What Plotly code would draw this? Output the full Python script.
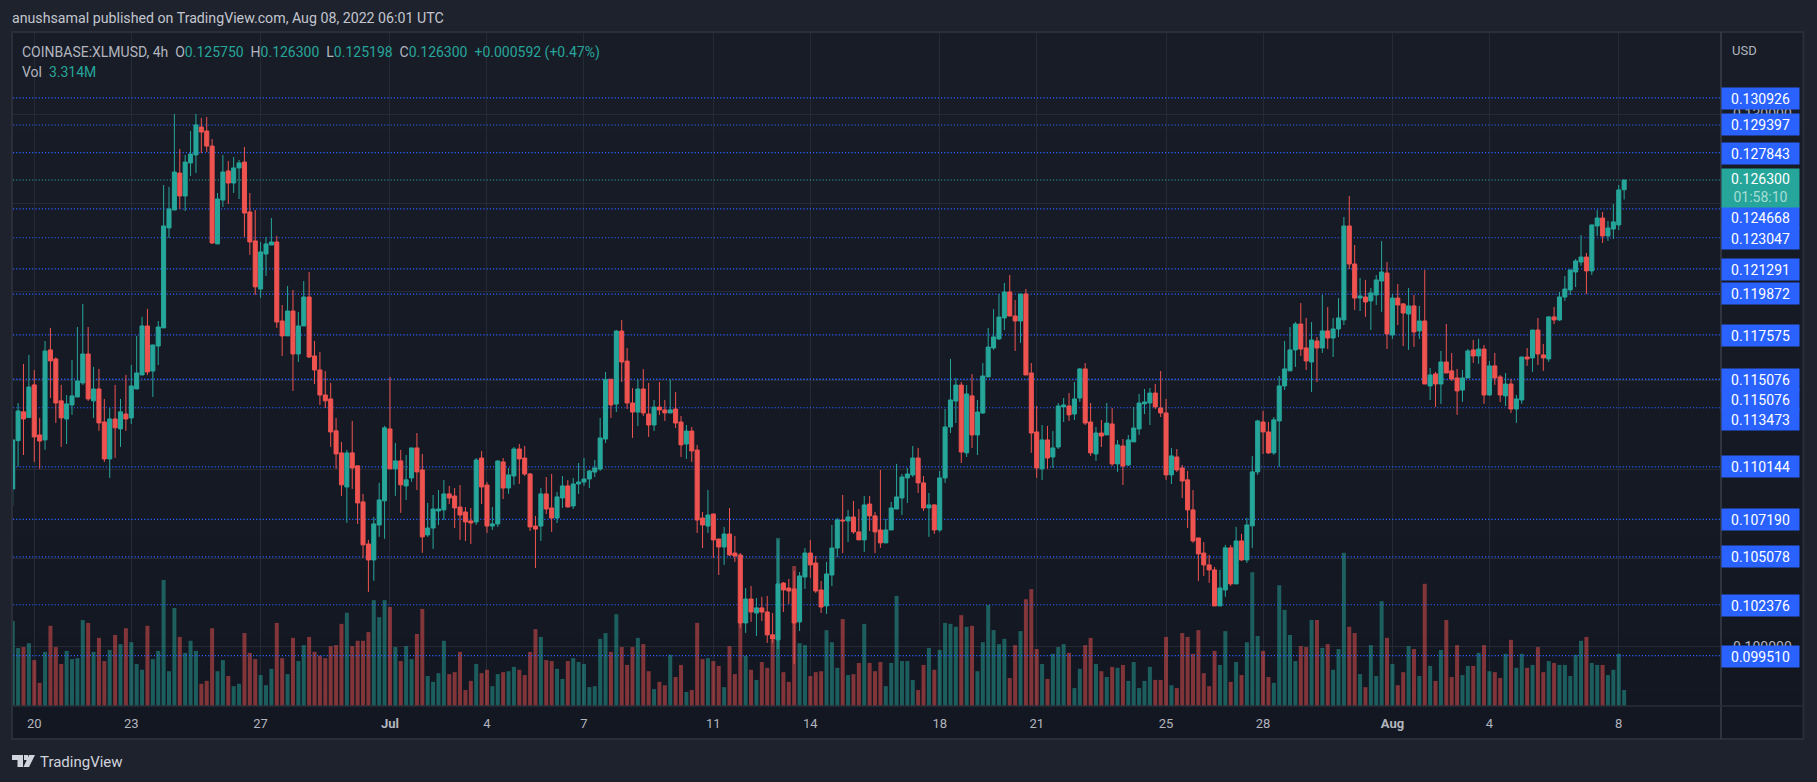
import pandas as pd
import plotly.graph_objects as go

# XLM/USD 4h candles, prices in 1e-5 USD
open_e5 = [
    10890,11162,11324,11292,11476,11194,11166,11673,11622,11386,
    11284,11363,11408,11487,11650,11386,11453,11267,11059,11284,
    11228,11312,11290,11453,11532,11808,11554,11695,11797,12360,
    12461,12669,12540,12726,12771,12928,12906,12821,12270,12517,
    12681,12613,12698,12731,12450,12287,12016,12213,12264,12281,
    11836,11752,11892,11650,11808,11971,11639,11560,11419,11397,
    11217,11093,10901,11093,11020,10817,10580,10490,10687,10823,
    11228,11003,11048,10907,10952,11121,10997,10631,10670,10766,
    10772,10862,10850,10788,10760,10710,10704,11064,10912,10681,
    10693,11042,10895,10963,11115,11064,10974,10681,10681,10862,
    10783,10726,10839,10907,10794,10918,10929,10946,10985,11002,
    11171,11507,11368,11779,11610,11374,11323,11453,11312,11250,
    11351,11335,11318,11340,11267,11143,11216,11109,10726,10681,
    10749,10608,10563,10636,10529,10518,10135,10270,10191,10220,
    10197,10068,10040,10360,10332,10327,10141,10394,10529,10473,
    10321,10231,10405,10557,10715,10710,10732,10648,10603,10805,
    10738,10659,10586,10659,10777,10839,10952,10969,11064,10924,
    10783,10800,10659,10952,11239,11385,11475,11093,11414,11194,
    11318,11521,11684,11735,11853,11999,11864,11836,11988,11543,
    11211,11003,11166,11070,11126,11352,11357,11312,11402,11566,
    11267,11087,11205,11194,11256,11031,11132,11025,11155,11228,
    11369,11374,11430,11346,11318,10969,11070,11008,10941,10772,
    10614,10529,10462,10434,10231,10321,10558,10355,10597,10490,
    10682,10986,11267,11211,11093,11273,11470,11555,11673,11819,
    11684,11605,11723,11684,11780,11740,11791,11842,12371,12157,
    11965,11971,11949,11982,12061,12106,11757,11965,11932,11875,
    11921,11780,11836,11470,11538,11481,11605,11555,11515,11447,
    11515,11673,11639,11678,11419,11583,11521,11414,11481,11340,
    11391,11633,11628,11785,11645,11622,11859,11842,11971,12011,
    12112,12168,12196,12118,12371,12416,12315,12354,12377,12575,
]
high_e5 = [
    11166,11374,11594,11645,11560,11290,11723,11797,11631,11476,
    11419,11616,11802,11932,11802,11577,11566,11397,11346,11476,
    11397,11532,11588,11752,11859,11904,11701,11836,12602,12591,
    13002,12805,12771,12906,13002,12979,12985,12861,12557,12771,
    12737,12760,12743,12816,12557,12461,12281,12309,12416,12315,
    11926,12033,12011,11887,12061,12112,11723,11661,11554,11487,
    11290,11155,11110,11273,11020,10862,10603,10732,10924,11245,
    11521,11149,11110,11081,11121,11205,11087,10811,10856,10884,
    10940,10907,10895,10912,10788,10783,11064,11104,10929,10788,
    11053,11064,11008,11126,11143,11132,10980,10738,10895,10957,
    10974,10873,10963,10940,10952,11036,11064,10997,11053,11290,
    11549,11511,11785,11841,11684,11458,11507,11565,11487,11391,
    11492,11391,11507,11436,11301,11250,11239,11138,10760,10884,
    10749,10608,10676,10783,10625,10529,10332,10343,10276,10282,
    10287,10191,10603,10366,10383,10428,10422,10557,10603,10512,
    10372,10479,10687,10726,10856,10772,10822,10777,10850,10850,
    10760,10997,10721,10817,11031,10974,11008,11132,11121,10963,
    10867,10805,10991,11340,11622,11515,11492,11475,11537,11391,
    11599,11796,11903,11988,12050,12095,11954,11988,12016,11599,
    11357,11250,11245,11216,11374,11402,11430,11492,11571,11599,
    11374,11239,11278,11374,11346,11166,11171,11194,11352,11425,
    11453,11459,11481,11554,11397,11121,11115,11025,10991,10884,
    10614,10591,10518,10451,10434,10575,10575,10676,10637,10727,
    11076,11279,11329,11267,11295,11526,11723,11802,11830,11937,
    11853,11830,11746,11982,11915,11853,11965,12422,12540,12264,
    12078,12067,12022,12095,12286,12168,11988,12044,11937,12022,
    11982,11921,12123,11571,11549,11667,11819,11656,11566,11560,
    11678,11729,11735,11701,11611,11656,11532,11543,11509,11419,
    11633,11684,11785,11853,11707,11864,11915,11999,12089,12123,
    12185,12320,12219,12377,12461,12450,12399,12495,12602,12630,
]
low_e5 = [
    10794,11016,11081,11292,11042,11003,11110,11402,11262,11127,
    11143,11307,11408,11476,11386,11290,11217,11042,10952,11065,
    11127,11217,11256,11453,11532,11532,11408,11588,11797,12303,
    12461,12467,12455,12653,12669,12782,12788,12270,12270,12478,
    12495,12557,12523,12309,12208,11983,11966,12090,12264,11797,
    11639,11752,11442,11605,11808,11628,11481,11363,11346,11127,
    11003,10851,10699,10890,10693,10501,10310,10372,10620,10609,
    11003,10851,10755,10828,10930,10884,10530,10620,10552,10687,
    10715,10805,10670,10603,10597,10580,10687,10805,10642,10659,
    10676,10833,10862,10912,10918,10963,10653,10445,10597,10749,
    10648,10698,10783,10788,10777,10862,10907,10895,10957,10991,
    11149,11290,11323,11492,11340,11177,11244,11301,11183,11216,
    11306,11273,11318,11233,11070,11059,11042,10642,10557,10642,
    10501,10405,10462,10512,10479,10107,10079,10141,10062,10146,
    10023,10023,9989,10197,10242,9904,10090,10327,10389,10304,
    10191,10186,10343,10507,10529,10591,10637,10603,10535,10653,
    10529,10558,10586,10659,10777,10743,10811,10957,10867,10766,
    10620,10637,10648,10924,11205,11261,11036,11070,11121,11081,
    11312,11521,11673,11729,11785,11864,11667,11712,11532,11093,
    10952,10941,11003,11008,11115,11267,11273,11278,11380,11250,
    11076,11048,11126,11194,11019,10986,10912,11019,11155,11194,
    11312,11250,11340,11295,10941,10918,10986,10839,10670,10586,
    10372,10400,10361,10231,10231,10282,10344,10355,10485,10473,
    10558,10969,11087,11087,11081,11014,11447,11555,11577,11639,
    11560,11436,11492,11656,11678,11633,11746,11813,12129,11898,
    11892,11859,11785,11926,11887,11678,11735,11813,11695,11673,
    11690,11735,11481,11391,11352,11369,11543,11498,11307,11380,
    11515,11600,11594,11369,11414,11476,11380,11357,11318,11262,
    11369,11583,11549,11588,11555,11605,11819,11836,11949,11982,
    12027,12146,11988,12095,12315,12275,12287,12298,12348,12520,
]
close_e5 = [
    11166,11329,11284,11464,11183,11160,11667,11611,11374,11290,
    11369,11414,11498,11650,11397,11453,11262,11059,11284,11234,
    11324,11284,11470,11543,11808,11549,11701,11802,12371,12467,
    12675,12540,12731,12776,12940,12900,12821,12275,12523,12675,
    12613,12698,12726,12444,12281,12028,12225,12270,12281,11830,
    11752,11892,11650,11808,11971,11633,11560,11419,11386,11211,
    11087,10913,11093,11008,10811,10575,10490,10693,10828,11234,
    11003,11048,10913,10941,11121,10986,10620,10670,10777,10777,
    10862,10839,10783,10743,10704,10698,11053,10901,10681,10693,
    11047,10895,10969,11115,11059,10974,10676,10664,10862,10777,
    10726,10845,10907,10788,10918,10929,10946,10991,11008,11177,
    11507,11363,11779,11605,11374,11323,11453,11318,11250,11351,
    11335,11318,11335,11261,11138,11216,11104,10715,10687,10743,
    10603,10563,10636,10518,10512,10135,10270,10197,10220,10197,
    10068,10045,10355,10321,10315,10135,10400,10529,10462,10315,
    10225,10411,10557,10715,10710,10732,10648,10603,10800,10738,
    10648,10586,10659,10783,10845,10957,10974,11064,10924,10783,
    10800,10659,10952,11239,11391,11475,11098,11425,11194,11323,
    11526,11689,11746,11858,11999,11864,11836,11988,11532,11205,
    11008,11166,11064,11121,11357,11363,11307,11397,11566,11261,
    11093,11205,11188,11261,11031,11138,11019,11166,11233,11374,
    11380,11430,11352,11318,10969,11076,10997,10935,10772,10597,
    10524,10462,10434,10231,10332,10558,10355,10597,10490,10687,
    10986,11273,11211,11093,11279,11470,11566,11673,11819,11678,
    11611,11729,11684,11780,11740,11791,11853,12371,12157,11965,
    11977,11943,11994,12067,12112,11763,11965,11926,11881,11921,
    11774,11836,11481,11532,11481,11605,11543,11509,11442,11515,
    11667,11639,11678,11419,11583,11515,11419,11481,11340,11397,
    11633,11622,11785,11650,11628,11859,11842,11971,12016,12123,
    12174,12196,12118,12377,12416,12315,12360,12394,12574,12630,
]
# volume in millions
volume_m = [
    17.6,12.0,12.2,13.0,9.5,4.8,11.2,16.6,12.2,8.7,
    11.4,9.7,9.9,17.8,17.2,11.2,14.1,9.3,11.6,14.7,
    12.8,16.1,13.2,8.7,7.5,16.6,9.7,11.4,26.1,7.2,
    20.3,14.3,11.0,13.5,11.4,4.6,5.2,16.1,7.2,9.5,
    6.2,4.1,4.6,15.1,11.0,9.7,6.4,4.3,7.7,17.2,
    9.9,6.6,14.1,9.3,12.6,14.3,11.2,10.4,9.9,12.4,
    12.6,17.0,19.3,12.4,13.5,13.5,15.3,21.9,18.4,21.9,
    20.5,12.2,9.3,12.4,9.7,14.9,20.1,6.2,5.0,6.8,
    13.5,6.6,7.0,11.2,3.3,5.2,8.7,6.8,7.5,4.1,
    6.6,7.0,7.2,8.1,7.5,6.4,11.2,15.9,14.3,9.5,
    9.3,7.7,5.6,9.3,9.9,9.1,8.7,3.9,4.1,13.9,
    15.1,11.2,19.0,12.2,8.5,12.2,14.1,12.8,7.2,3.5,
    5.0,4.3,10.6,6.0,8.5,2.9,3.3,17.2,9.7,9.9,
    9.3,8.3,3.9,12.4,6.6,18.8,10.4,7.5,5.4,9.1,
    7.9,13.7,34.8,7.0,5.0,29.0,13.0,12.6,6.2,7.0,
    7.2,15.7,13.2,7.9,18.0,6.4,6.6,8.9,17.0,8.9,
    7.2,9.1,4.1,8.9,22.8,9.3,9.3,5.4,3.3,8.5,
    12.0,7.5,11.6,17.2,17.0,16.4,18.8,16.4,16.6,7.2,
    13.2,20.9,15.7,12.8,13.9,5.8,12.6,15.5,22.1,24.2,
    11.8,8.7,5.6,10.8,12.2,12.8,11.0,3.7,7.7,12.6,
    14.1,8.7,7.2,6.0,8.1,7.9,8.5,5.2,9.1,3.7,
    5.2,8.1,5.4,5.4,14.3,4.3,3.7,15.1,14.3,10.8,
    15.7,6.8,4.1,11.4,8.5,15.5,5.0,9.1,6.4,13.2,
    27.7,14.5,11.4,6.0,4.8,25.0,19.9,14.7,9.3,12.4,
    12.2,17.8,17.8,12.0,12.8,7.5,11.8,31.7,16.4,15.1,
    6.6,3.9,12.6,6.2,21.7,14.1,8.7,4.3,7.0,12.4,
    11.8,6.2,25.3,8.3,5.2,11.6,17.8,6.0,12.6,6.4,
    8.3,8.3,11.0,12.6,7.2,7.0,5.8,10.8,13.7,7.9,
    10.8,7.9,8.5,12.2,7.0,9.3,8.9,8.5,8.5,6.2,
    10.6,13.5,14.3,8.9,8.5,8.5,6.4,7.5,10.8,3.314,
]

level_prices = [0.130926, 0.129397, 0.127843, 0.124668, 0.123047, 0.121291, 0.119872, 0.117575,
                0.115076, 0.115076, 0.113473, 0.110144, 0.107190, 0.105078, 0.102376, 0.099510]
# the labels get pushed apart where they would overlap
level_label_px = [98, 125, 153, 217, 238, 269, 294, 335, 380, 399, 420, 467, 519, 556, 605, 656]
last_price = 0.126300

price_ticks = [0.100, 0.105, 0.110, 0.115, 0.120, 0.125, 0.130]
# only these two peek out from behind the level labels
price_tick_labels = ['0.100000', '', '', '', '', '', '0.130000']

date_ticks = ['2022-06-20', '2022-06-23', '2022-06-27', '2022-07-01', '2022-07-04',
              '2022-07-07', '2022-07-11', '2022-07-14', '2022-07-18', '2022-07-21',
              '2022-07-25', '2022-07-28', '2022-08-01', '2022-08-04', '2022-08-08']
date_labels = ['20', '23', '27', '<b>Jul</b>', '4', '7', '11', '14', '18', '21',
               '25', '28', '<b>Aug</b>', '4', '8']

UP = '#26a69a'
DOWN = '#ef5350'
BLUE = '#2962ff'
PAGE = '#1e222d'
GRID = '#262a35'
BORDER = '#2a2e39'
TEXT = '#b2b5be'
FONT = 'Roboto'

times = pd.date_range('2022-06-19 08:00', periods=len(close_e5), freq='4h')
opens = [v / 1e5 for v in open_e5]
highs = [v / 1e5 for v in high_e5]
lows = [v / 1e5 for v in low_e5]
closes = [v / 1e5 for v in close_e5]

X_RANGE = ['2022-06-19 08:13', '2022-08-11 03:53']
PRICE_RANGE = [0.096674, 0.134579]
L, R, T, B = 13, 1721.5, 33, 706


def px(x):
    return (x - L) / (R - L)


def py(y):
    return (B - y) / (B - T)


vol_colors = ['rgba(38,166,154,0.5)' if c >= o else 'rgba(239,83,80,0.5)'
              for o, c in zip(open_e5, close_e5)]

fig = go.Figure()

# volume at the bottom, then the level lines, then candles on top
fig.add_trace(go.Bar(x=times, y=volume_m, marker_color=vol_colors, marker_line_width=0,
                     width=4 * 3600 * 1000 * 0.74, yaxis='y', hoverinfo='skip'))

for price in level_prices:
    fig.add_trace(go.Scatter(x=X_RANGE, y=[price, price], mode='lines', yaxis='y2', hoverinfo='skip',
                             line=dict(color=BLUE, width=1.2, dash='1.2px,2px')))
fig.add_trace(go.Scatter(x=X_RANGE, y=[last_price, last_price], mode='lines', yaxis='y2', hoverinfo='skip',
                         line=dict(color=UP, width=1.2, dash='1.2px,2px')))

fig.add_trace(go.Candlestick(
    x=times, open=opens, high=highs, low=lows, close=closes, yaxis='y3',
    whiskerwidth=0,
    increasing=dict(line=dict(color=UP, width=1), fillcolor=UP),
    decreasing=dict(line=dict(color=DOWN, width=1), fillcolor=DOWN),
))

annotations = []
for price, y in zip(level_prices, level_label_px):
    annotations.append(dict(
        x=px(R + 0.5), y=py(y), xref='paper', yref='paper', xanchor='left', yanchor='middle',
        text=f'{price:.6f}', showarrow=False, width=77, height=21, bgcolor=BLUE,
        font=dict(family=FONT, size=14, color='#ffffff'), align='center', borderpad=0))

# last price with the countdown below it
annotations.append(dict(
    x=px(R + 0.5), y=py(188), xref='paper', yref='paper', xanchor='left', yanchor='middle',
    text='0.126300<br><span style="color:#a8dcd6">01:58:10</span>', showarrow=False,
    width=77, height=38, bgcolor=UP, font=dict(family=FONT, size=14, color='#ffffff'),
    align='center', borderpad=0))


def val(s):
    return f'<span style="color:{UP}">{s}</span>'


legend = ('COINBASE:XLMUSD, 4h  O' + val('0.125750') + '  H' + val('0.126300') + '  L' + val('0.125198')
          + '  C' + val('0.126300') + '  ' + val('+0.000592 (+0.47%)'))
texts = [
    (10, 18, 'anushsamal published on TradingView.com, Aug 08, 2022 06:01 UTC', 14.2, '#c3c6ce'),
    (20, 52, legend, 14, TEXT),
    (20, 72, 'Vol  ' + val('3.314M'), 14, TEXT),
    (1731, 50, 'USD', 13, TEXT),
    (38, 762, 'TradingView', 15, '#d1d4dc'),
]
for x, y, text, size, color in texts:
    annotations.append(dict(x=px(x), y=py(y), xref='paper', yref='paper', xanchor='left', yanchor='middle',
                            text=text, showarrow=False, font=dict(family=FONT, size=size, color=color)))

# chart background fades slightly from top to bottom
shapes = []
bands = 14
for i in range(bands):
    t = i / (bands - 1)
    shade = 'rgb({},{},{})'.format(round(24 - 5 * t), round(28 - 5 * t), round(39 - 5 * t))
    y0 = 32 + (739 - 32) * i / bands
    y1 = 32 + (739 - 32) * (i + 1) / bands
    shapes.append(dict(type='rect', xref='paper', yref='paper', x0=px(12), x1=px(1804), y0=py(y0), y1=py(y1),
                       fillcolor=shade, line_width=0, layer='below'))

shapes += [
    dict(type='rect', xref='paper', yref='paper', x0=px(12), x1=px(1804), y0=py(32), y1=py(739),
         fillcolor='rgba(0,0,0,0)', line=dict(color=BORDER, width=2), layer='below'),
    dict(type='line', xref='paper', yref='paper', x0=px(R), x1=px(R), y0=py(32), y1=py(739),
         line=dict(color='#3a3e49', width=1.5)),
    dict(type='line', xref='paper', yref='paper', x0=px(12), x1=px(1804), y0=py(B), y1=py(B),
         line=dict(color=BORDER, width=1.5)),
]

# TradingView mark
logo = [
    'M {} {} L {} {} L {} {} L {} {} L {} {} L {} {} Z'.format(
        px(12), py(755), px(23), py(755), px(23), py(767), px(17.5), py(767), px(17.5), py(760), px(12), py(760)),
    'M {} {} L {} {} L {} {} L {} {} Z'.format(
        px(29), py(755), px(35), py(755), px(29), py(767), px(23.5), py(767)),
    'M {} {} L {} {} L {} {} L {} {} Z'.format(
        px(24), py(755), px(28), py(755), px(28), py(760), px(24), py(760)),
]
for path in logo:
    shapes.append(dict(type='path', xref='paper', yref='paper', path=path, fillcolor='#d1d4dc', line_width=0))

fig.update_layout(
    width=1817,
    height=782,
    margin=dict(l=L, r=1817 - R, t=T, b=782 - B, pad=0),
    paper_bgcolor=PAGE,
    plot_bgcolor='rgba(0,0,0,0)',
    showlegend=False,
    barmode='overlay',
    boxmode='overlay',
    boxgap=0,
    boxgroupgap=0.25,
    font=dict(family=FONT, color=TEXT),
    annotations=annotations,
    shapes=shapes,
    xaxis=dict(
        type='date', range=X_RANGE, rangeslider=dict(visible=False), tickmode='array',
        tickvals=date_ticks, ticktext=date_labels, showgrid=True, gridcolor=GRID, gridwidth=1,
        zeroline=False, showline=False, ticks='', ticklabelstandoff=8,
        tickfont=dict(family=FONT, size=13, color=TEXT),
    ),
    yaxis=dict(range=[0, 139.3], visible=False, fixedrange=True),
    yaxis2=dict(range=PRICE_RANGE, overlaying='y', visible=False),
    yaxis3=dict(
        range=PRICE_RANGE, overlaying='y', side='right', tickmode='array', tickvals=price_ticks,
        ticktext=price_tick_labels, showgrid=True, gridcolor=GRID, gridwidth=1, zeroline=False, showline=False,
        ticks='', ticklabelstandoff=11, tickfont=dict(family=FONT, size=14, color=TEXT),
    ),
)

fig.write_html("out.html", config=dict(displayModeBar=False),
               post_script="document.body.style.margin='0';")
